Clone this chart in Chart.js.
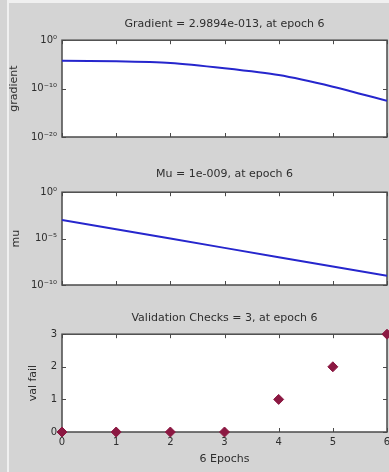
<!DOCTYPE html>
<html>
<head>
<meta charset="utf-8">
<script src="https://cdn.jsdelivr.net/npm/chart.js@4"></script>
<style>
  html, body { margin: 0; padding: 0; background: #d4d4d4; overflow: hidden; }
  #wrap { position: relative; width: 389px; height: 472px; overflow: hidden; background: #d4d4d4; }
  #wrap canvas { position: absolute; left: 0; }
  .edge { position: absolute; background: #f0f0f0; }
</style>
</head>
<body>
<div id="wrap">
  <div class="edge" style="left:7px; top:0; width:2px; height:472px"></div>
  <div class="edge" style="left:7px; top:0; width:382px; height:3px"></div>
  <canvas id="gradChart" width="400" height="150" style="top:0"></canvas>
  <canvas id="muChart" width="400" height="150" style="top:150px"></canvas>
  <canvas id="failChart" width="400" height="172" style="top:300px"></canvas>
</div>
<script>
const epochs = [0, 1, 2, 3, 4, 5, 6];
const gradientValues = [5.6e-5, 4.5e-5, 2.0e-5, 1.6e-6, 6.3e-8, 2.5e-10, 2.9894e-13];
const muValues = [1e-3, 1e-4, 1e-5, 1e-6, 1e-7, 1e-8, 1e-9];
const valFailValues = [0, 0, 0, 0, 1, 2, 3];

const gradientTicks = [1, 1e-10, 1e-20];
const muTicks = [1, 1e-5, 1e-10];
const valFailTicks = [0, 1, 2, 3];
const epochTicks = [0, 1, 2, 3, 4, 5, 6];

const gradientTitle = 'Gradient = 2.9894e-013, at epoch 6';
const muTitle = 'Mu = 1e-009, at epoch 6';
const valFailTitle = 'Validation Checks = 3, at epoch 6';
const xLabel = '6 Epochs';

const FONT = "'DejaVu Sans', sans-serif";
const TEXT = '#2e2e2e';
const LINE_BLUE = 'rgb(38, 38, 205)';
const MARKER = 'rgb(140, 24, 66)';

const SUP = {'0':'⁰','1':'¹','2':'²','3':'³','4':'⁴','5':'⁵','6':'⁶','7':'⁷','8':'⁸','9':'⁹','-':'⁻'};
function powerLabel(v) {
    const exp = String(Math.round(Math.log10(v)));
    return '10' + exp.split('').map((c) => SUP[c]).join('');
}

// white plot box, matlab-style frame with inward ticks
const matlabBox = {
    id: 'matlabBox',
    beforeDraw(chart) {
        const {ctx, chartArea: a} = chart;
        ctx.save();
        ctx.fillStyle = '#ffffff';
        ctx.fillRect(a.left, a.top, a.width, a.height);
        ctx.restore();
    },
    beforeDatasetsDraw(chart) {
        const {ctx, chartArea: a, scales: {x, y}} = chart;
        ctx.save();
        ctx.strokeStyle = '#4a4a4a';
        ctx.lineWidth = 1;
        ctx.beginPath();
        epochTicks.forEach((v) => {
            const px = Math.round(x.getPixelForValue(v)) + 0.5;
            ctx.moveTo(px, a.bottom); ctx.lineTo(px, a.bottom - 4);
            ctx.moveTo(px, a.top); ctx.lineTo(px, a.top + 4);
        });
        y.ticks.forEach((t) => {
            const py = Math.round(y.getPixelForValue(t.value)) + 0.5;
            ctx.moveTo(a.left, py); ctx.lineTo(a.left + 4, py);
            ctx.moveTo(a.right, py); ctx.lineTo(a.right - 4, py);
        });
        ctx.stroke();
        ctx.lineWidth = 1.5;
        ctx.strokeRect(a.left, a.top, a.width, a.height);
        ctx.restore();
    }
};

const makeChart = (id, cfg) => {
    return new Chart(document.getElementById(id), {
        type: 'line',
        data: {
            datasets: [cfg.dataset]
        },
        options: {
            responsive: false,
            animation: false,
            events: [],
            layout: {
                padding: {left: 0, right: 13, top: 0, bottom: cfg.padBottom}
            },
            plugins: {
                legend: {display: false},
                tooltip: {enabled: false},
                title: {
                    display: true,
                    text: cfg.title,
                    fullSize: false,
                    color: TEXT,
                    font: {family: FONT, size: 11, weight: 'normal', lineHeight: 1.2},
                    padding: cfg.titlePad
                }
            },
            scales: {
                x: cfg.xScale,
                y: cfg.yScale
            }
        },
        plugins: [matlabBox]
    });
};

const hiddenX = {
    type: 'linear',
    display: false,
    min: 0,
    max: 6
};

const yScaleBase = (extra) => Object.assign({
    position: 'left',
    grid: {display: false, drawTicks: false},
    border: {display: false},
    afterFit: (scale) => { scale.width = 62; }
}, extra);

const seriesPoints = (values) => epochs.map((e, i) => ({x: e, y: values[i]}));

makeChart('gradChart', {
    title: gradientTitle,
    titlePad: {top: 18, bottom: 9},
    padBottom: 13,
    xScale: hiddenX,
    yScale: yScaleBase({
        type: 'logarithmic',
        min: 1e-20,
        max: 1,
        afterBuildTicks: (scale) => { scale.ticks = gradientTicks.map((v) => ({value: v})); },
        ticks: {
            padding: 5,
            color: TEXT,
            font: {family: FONT, size: 10},
            callback: (v) => powerLabel(v)
        },
        title: {
            display: true,
            text: 'gradient',
            color: TEXT,
            font: {family: FONT, size: 11, lineHeight: 1.2},
            padding: {top: 8, bottom: 0}
        }
    }),
    dataset: {
        data: seriesPoints(gradientValues),
        borderColor: LINE_BLUE,
        borderWidth: 2,
        pointRadius: 0,
        tension: 0.2,
        fill: false
    }
});

makeChart('muChart', {
    title: muTitle,
    titlePad: {top: 18, bottom: 11},
    padBottom: 15,
    xScale: hiddenX,
    yScale: yScaleBase({
        type: 'logarithmic',
        min: 1e-10,
        max: 1,
        afterBuildTicks: (scale) => { scale.ticks = muTicks.map((v) => ({value: v})); },
        ticks: {
            padding: 5,
            color: TEXT,
            font: {family: FONT, size: 10},
            callback: (v) => powerLabel(v)
        },
        title: {
            display: true,
            text: 'mu',
            color: TEXT,
            font: {family: FONT, size: 11, lineHeight: 1.2},
            padding: {top: 10, bottom: 0}
        }
    }),
    dataset: {
        data: seriesPoints(muValues),
        borderColor: LINE_BLUE,
        borderWidth: 2,
        pointRadius: 0,
        fill: false
    }
});

makeChart('failChart', {
    title: valFailTitle,
    titlePad: {top: 12, bottom: 9},
    padBottom: 0,
    xScale: {
        type: 'linear',
        min: 0,
        max: 6,
        grid: {display: false, drawTicks: false},
        border: {display: false},
        afterBuildTicks: (scale) => { scale.ticks = epochTicks.map((v) => ({value: v})); },
        afterFit: (scale) => { scale.height = 40; },
        ticks: {
            padding: 4,
            color: TEXT,
            font: {family: FONT, size: 10}
        },
        title: {
            display: true,
            text: xLabel,
            color: TEXT,
            font: {family: FONT, size: 11, lineHeight: 1.2},
            padding: {top: 0, bottom: 6}
        }
    },
    yScale: yScaleBase({
        type: 'linear',
        min: 0,
        max: 3,
        afterBuildTicks: (scale) => { scale.ticks = valFailTicks.map((v) => ({value: v})); },
        ticks: {
            padding: 5,
            color: TEXT,
            font: {family: FONT, size: 10}
        },
        title: {
            display: true,
            text: 'val fail',
            color: TEXT,
            font: {family: FONT, size: 11, lineHeight: 1.2},
            padding: {top: 27, bottom: 0}
        }
    }),
    dataset: {
        data: seriesPoints(valFailValues),
        showLine: false,
        clip: false,
        pointStyle: 'rectRot',
        pointRadius: 5,
        pointBackgroundColor: MARKER,
        pointBorderColor: MARKER,
        pointBorderWidth: 1
    }
});
</script>
</body>
</html>
